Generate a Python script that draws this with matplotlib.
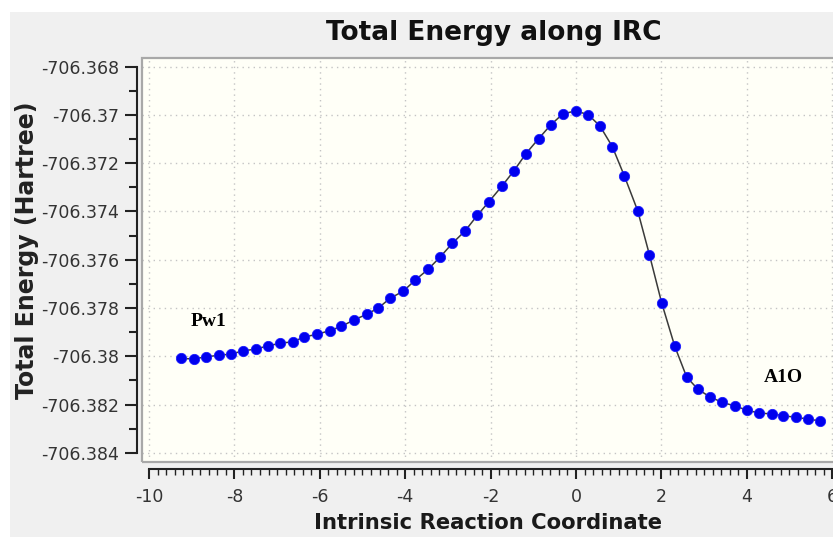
import matplotlib.pyplot as plt
from matplotlib.patches import Rectangle
from matplotlib.ticker import MultipleLocator, FuncFormatter

plt.rcParams["axes.unicode_minus"] = False

# IRC points: reaction coordinate and total energy (Hartree)
irc_x = [-9.258, -8.946, -8.665, -8.361, -8.087, -7.806, -7.501, -7.220, -6.932, -6.635,
         -6.363, -6.073, -5.768, -5.496, -5.206, -4.902, -4.630, -4.356, -4.044, -3.763,
         -3.466, -3.178, -2.897, -2.600, -2.311, -2.037, -1.740, -1.452, -1.171, -0.874,
         -0.585, -0.311, -0.007, 0.288, 0.562, 0.850, 1.131, 1.445, 1.721, 2.007,
         2.314, 2.592, 2.857, 3.145, 3.426, 3.724, 3.998, 4.286, 4.590, 4.855,
         5.145, 5.440, 5.714]
energy = [-706.38009, -706.38011, -706.38002, -706.37996, -706.37991, -706.37978, -706.37970,
          -706.37957, -706.37946, -706.37940, -706.37920, -706.37909, -706.37894, -706.37876,
          -706.37850, -706.37826, -706.37800, -706.37760, -706.37730, -706.37684, -706.37640,
          -706.37588, -706.37532, -706.37481, -706.37416, -706.37359, -706.37296, -706.37231,
          -706.37160, -706.37098, -706.37040, -706.36996, -706.36983, -706.36999, -706.37046,
          -706.37131, -706.37252, -706.37397, -706.37580, -706.37779, -706.37959, -706.38086,
          -706.38137, -706.38169, -706.38191, -706.38206, -706.38223, -706.38235, -706.38239,
          -706.38246, -706.38253, -706.38260, -706.38268]

# species labels at each end of the path
end_labels = ["Pw1", "A1O"]
end_label_x = [-8.6, 4.85]
end_label_y = [-706.37855, -706.38086]

W, H = 833, 537
fig = plt.figure(figsize=(W / 100, H / 100), dpi=100)
fig.patch.set_facecolor("white")
fig.add_artist(Rectangle((10 / W, 0), 1, (H - 12) / H, transform=fig.transFigure,
                         facecolor="#f0f0f0", edgecolor="none", zorder=-10))

# plot frame in pixel terms: left 142, right 845, top 58, bottom 462
ax = fig.add_axes([142 / W, (H - 462) / H, (845 - 142) / W, (462 - 58) / H])
ax.set_facecolor("#fffff7")

ax.plot(irc_x, energy, color="#3a3a3a", lw=1.1, zorder=3)
ax.plot(irc_x, energy, "o", color="#0000ee", ms=7.4, mec="#1a1aff", mew=0.6, zorder=4)

for lab, lx, ly in zip(end_labels, end_label_x, end_label_y):
    ax.text(lx, ly, lab, ha="center", va="center", fontsize=14, fontweight="bold",
            family="Liberation Serif", color="black")

ax.set_xlim(-10.164, 6.30)
ax.set_ylim(-706.38438, -706.36764)

ax.xaxis.set_major_locator(MultipleLocator(2))
ax.xaxis.set_minor_locator(MultipleLocator(0.2))
ax.yaxis.set_major_locator(MultipleLocator(0.002))
ax.yaxis.set_minor_locator(MultipleLocator(0.001))
ax.yaxis.set_major_formatter(FuncFormatter(lambda v, p: ("%.3f" % v).rstrip("0")))

ax.grid(True, which="major", ls=(0, (1, 3)), color="#c4c4c4", lw=1.0)

# frame around the plotting area
for s in ["top", "right"]:
    ax.spines[s].set_visible(False)
ax.add_patch(Rectangle((0, 0), 1, 1, transform=ax.transAxes, fill=False,
                       edgecolor="#a8a8a8", lw=1.6, clip_on=False, zorder=5))

# detached axis lines
ax.spines["left"].set_position(("outward", 3.6))
ax.spines["left"].set_bounds(-706.384, -706.368)
ax.spines["bottom"].set_position(("outward", 5.0))
ax.spines["bottom"].set_bounds(-10, 6)
for s in ["left", "bottom"]:
    ax.spines[s].set_color("#222222")
    ax.spines[s].set_linewidth(1.5)

ax.tick_params(axis="y", which="major", length=9, width=1.5, color="#222222",
               labelsize=12.5, labelcolor="#333333", pad=4)
ax.tick_params(axis="y", which="minor", length=6, width=1.5, color="#222222")
ax.tick_params(axis="x", which="major", length=7, width=1.5, color="#222222",
               labelsize=12.5, labelcolor="#333333", pad=7)
ax.tick_params(axis="x", which="minor", length=4, width=1.0, color="#222222")

fig.text(494 / W, 1 - 33 / H, "Total Energy along IRC", ha="center", va="center",
         fontsize=19, fontweight="bold", color="#111111")
fig.text(27 / W, 1 - 250 / H, "Total Energy (Hartree)", ha="center", va="center",
         rotation=90, fontsize=17, fontweight="bold", color="#222222")
fig.text(488 / W, 1 - 523 / H, "Intrinsic Reaction Coordinate", ha="center", va="center",
         fontsize=15.2, fontweight="bold", color="#1a1a1a")

fig.savefig("out.png", dpi=100)
